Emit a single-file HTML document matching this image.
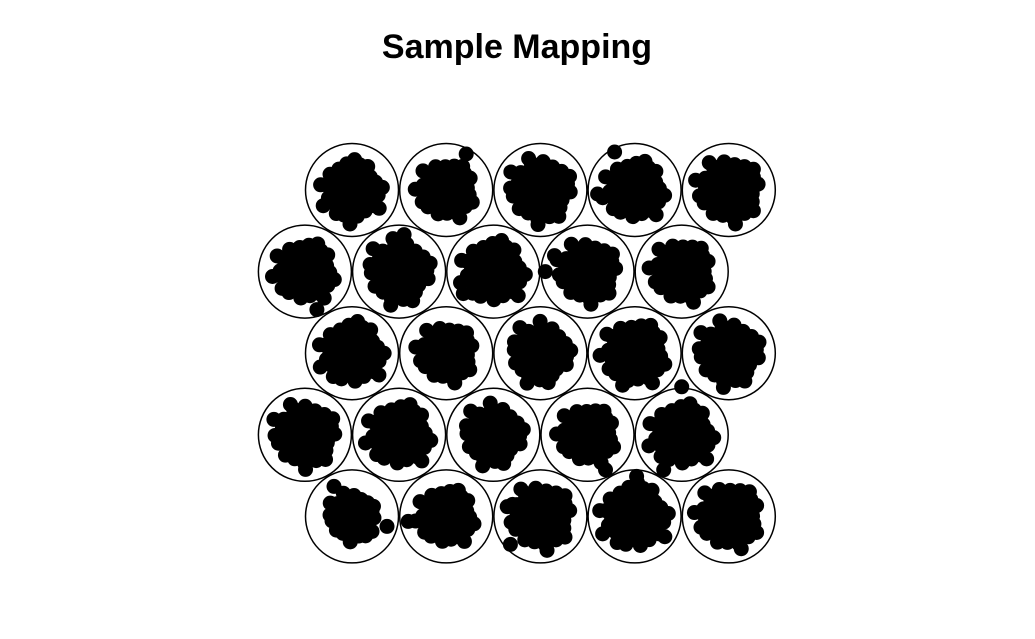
<!DOCTYPE html>
<html>
<head>
<meta charset="utf-8">
<style>
  html,body{margin:0;padding:0;background:#fff;}
  svg{display:block;}
</style>
</head>
<body>
<svg id="chart" width="1035" height="639" viewBox="0 0 1035 639">
  <text x="517" y="58" text-anchor="middle" font-family="Liberation Sans, sans-serif" font-weight="bold" font-size="34">Sample Mapping</text>
  <g id="cells"></g>
</svg>
<script>
// Grid dimensions (5x5 hexagonal SOM)
const gridCols = 5;
const gridRows = 5;
// Shared blob point offsets (units of cell radius)
const blobDx = [0,0.2,-0.2,0,0,0.2,-0.2,0.2,-0.2,0.4,-0.4,0,0,0.35,-0.35,0.35,-0.35,0.25,-0.25,0.25,-0.25,0.5,-0.5,0.1,-0.1,0.45,-0.45,0.15,-0.15,0.1,-0.1,0.42,-0.42,0.3,-0.3,0.58,-0.55,0.05,-0.6,0.52,
  0.1,-0.1,0.1,-0.1,0.3,-0.3,0.3,-0.3,0.1,-0.1,0.1,-0.1,0.3,-0.3,0.3,-0.3,0,0.2,-0.2,0.4];
const blobDy = [0,0,0,0.2,-0.2,0.2,0.2,-0.2,-0.2,0,0,0.4,-0.4,0.25,0.25,-0.25,-0.25,0.4,0.4,-0.4,-0.4,0.1,-0.1,0.5,-0.5,-0.15,0.15,-0.48,0.48,0.1,-0.1,0.3,-0.3,-0.45,0.45,-0.05,0.3,-0.58,-0.1,0.35,
  0.3,0.3,-0.3,-0.3,0.1,0.1,-0.1,-0.1,0.1,-0.1,-0.1,0.1,0.3,0.3,-0.3,-0.3,0.1,-0.1,0.1,-0.1];
// Per-cell blob scale and rotation (degrees), row-major from top-left
const cellScale = [0.9,0.85,0.95,0.9,0.95, 0.9,0.95,0.95,0.9,0.9, 0.95,0.85,0.9,0.95,0.95, 0.95,0.95,0.9,0.85,0.95, 0.7,0.85,0.95,1.0,0.95];
const cellRot = [0,30,60,15,45, 20,70,10,50,35, 5,40,80,25,65, 55,15,75,30,10, 60,20,45,0,35];
// Outlier points: [cellIndex, dx, dy] in px
const outliers = [[0,-2,34],[1,20,-36],[3,-20,-38],[3,-37,4],[5,12,38],[6,5,-37],[7,52,0],[7,-30,22],[8,-33,-16],[13,-12,32],[18,18,35],[19,0,-48],[19,-18,35],[20,-18,-30],[20,20,15],[20,35,10],[21,-38,5],[22,-30,28],[22,-28,-12],[23,2,-40]];

const NS = 'http://www.w3.org/2000/svg';
const g = document.getElementById('cells');
const x0 = 352, y0 = 190, dx = 94.2, dy = 81.6, R = 46.5, dotR = 7.5, blobK = 1.25;
function cx(r,c){ return x0 + c*dx - (r%2===1 ? dx/2 : 0); }
function cy(r){ return y0 + r*dy; }
for (let r=0;r<gridRows;r++){
  for (let c=0;c<gridCols;c++){
    const idx = r*gridCols + c;
    const X = cx(r,c), Y = cy(r);
    const cell = document.createElementNS(NS,'g');
    
    
    const circ = document.createElementNS(NS,'circle');
    circ.setAttribute('cx',X); circ.setAttribute('cy',Y); circ.setAttribute('r',R);
    circ.setAttribute('fill','none'); circ.setAttribute('stroke','#000'); circ.setAttribute('stroke-width','1.5');
    
    
    cell.appendChild(circ);
    const a = cellRot[idx]*Math.PI/180, s = cellScale[idx]*R*blobK;
    for (let i=0;i<blobDx.length;i++){
      const px = X + s*(blobDx[i]*Math.cos(a) - blobDy[i]*Math.sin(a));
      const py = Y + s*(blobDx[i]*Math.sin(a) + blobDy[i]*Math.cos(a));
      const d = document.createElementNS(NS,'circle');
      d.setAttribute('cx',px); d.setAttribute('cy',py); d.setAttribute('r',dotR); d.setAttribute('fill','#000');
      
      
      cell.appendChild(d);
    }
    g.appendChild(cell);
  }
}
for (const o of outliers){
  const r = Math.floor(o[0]/gridCols), c = o[0]%gridCols;
  const d = document.createElementNS(NS,'circle');
  d.setAttribute('cx',cx(r,c)+o[1]); d.setAttribute('cy',cy(r)+o[2]); d.setAttribute('r',dotR); d.setAttribute('fill','#000');
  
  
  g.appendChild(d);
}
</script>
</body>
</html>
